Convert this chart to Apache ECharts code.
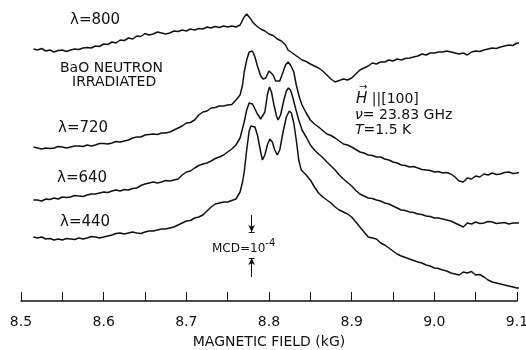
<!DOCTYPE html>
<html>
<head>
<meta charset="utf-8">
<script src="https://cdn.jsdelivr.net/npm/echarts@6/dist/echarts.min.js"></script>
<style>
  html, body { margin: 0; padding: 0; background: #fff; }
  #chart { width: 526px; height: 350px; }
</style>
</head>
<body>
<div id="chart"></div>
<script>
// MCD spectra of neutron-irradiated BaO, stacked with vertical offsets (arbitrary units)
const fieldTicks = [8.5, 8.6, 8.7, 8.8, 8.9, 9.0, 9.1];

const trace800 = [
  [8.515,252],[8.52,251],[8.525,252.5],[8.53,250],[8.535,251],[8.54,249],[8.545,250.5],[8.55,251],
  [8.555,249.5],[8.56,251],[8.565,252],[8.57,251.5],[8.575,253],[8.58,253.5],[8.585,253],[8.59,255],
  [8.595,254.5],[8.60,257],[8.605,256.5],[8.61,259],[8.615,258],[8.62,261],[8.625,260.5],[8.63,263],
  [8.635,262],[8.64,265],[8.645,264.5],[8.65,267.5],[8.655,266],[8.66,267],[8.665,269],[8.67,268],
  [8.675,267],[8.68,268],[8.685,270],[8.69,269.5],[8.695,271],[8.70,270],[8.705,272],[8.71,271],
  [8.715,272.5],[8.72,272],[8.725,274],[8.73,273],[8.735,274.5],[8.74,273.5],[8.745,275],[8.75,274],
  [8.755,275],[8.76,274],[8.765,276],[8.77,284],[8.773,287],[8.775,286],[8.778,282],[8.78,279],
  [8.785,275],[8.79,272],[8.795,270],[8.80,267],[8.805,265.5],[8.81,262],[8.815,260],[8.82,256],
  [8.823,251],[8.825,253],[8.83,247],[8.835,244],[8.84,241],[8.845,239.5],[8.85,237],[8.855,235],
  [8.86,233],[8.865,230],[8.87,226],[8.875,222],[8.88,219],[8.885,220.5],[8.89,222],[8.895,221],
  [8.90,223],[8.905,227],[8.91,231],[8.915,233],[8.92,235],[8.925,238],[8.93,237],[8.935,239],
  [8.94,239],[8.945,241],[8.95,240],[8.955,242],[8.96,241],[8.965,242.5],[8.97,243],[8.975,244],
  [8.98,245],[8.985,247],[8.99,246],[8.995,248],[9.00,248],[9.005,249],[9.01,249],[9.015,250],
  [9.02,249],[9.025,248],[9.03,247],[9.035,248],[9.04,246],[9.045,249],[9.05,250],[9.055,249.5],
  [9.06,251],[9.065,252],[9.07,253],[9.075,252.5],[9.08,254],[9.085,255],[9.09,256],[9.095,255.5],
  [9.10,258],[9.105,258]
];

const trace720 = [
  [8.515,154],[8.52,153],[8.525,152],[8.53,153],[8.535,152.5],[8.54,153],[8.545,154.5],[8.55,154],
  [8.555,153],[8.56,154],[8.565,155],[8.57,155],[8.575,154.5],[8.58,156],[8.585,155],[8.59,156],
  [8.595,157.5],[8.60,157.5],[8.605,157],[8.61,158],[8.615,159.5],[8.62,159],[8.625,160],[8.63,161],
  [8.635,163],[8.64,164],[8.645,164],[8.65,166],[8.655,166.5],[8.66,167],[8.665,166.5],[8.67,168],
  [8.675,168],[8.68,169],[8.685,171],[8.69,173],[8.695,175],[8.70,178],[8.705,178.5],[8.71,181],
  [8.715,186],[8.72,189],[8.725,190],[8.73,193],[8.735,193.5],[8.74,195],[8.745,195],[8.75,196],
  [8.755,196.5],[8.76,201],[8.765,206],[8.768,216],[8.77,229],[8.773,241],[8.776,249],[8.778,251],
  [8.78,250],[8.783,244],[8.786,235],[8.79,225],[8.793,222],[8.796,223],[8.80,230],[8.802,230],
  [8.805,226],[8.808,220],[8.81,218],[8.813,220],[8.817,229],[8.82,236],[8.823,239],[8.826,236],
  [8.83,229],[8.833,216],[8.837,203],[8.84,196],[8.845,188],[8.85,181],[8.855,177],[8.86,174],
  [8.865,170.5],[8.87,167],[8.875,165.5],[8.88,163],[8.885,160],[8.89,157],[8.895,156],[8.90,154],
  [8.905,151.5],[8.91,149],[8.915,148],[8.92,146],[8.925,145.5],[8.93,144],[8.935,144],[8.94,142],
  [8.945,141],[8.95,139],[8.955,138],[8.96,136],[8.965,135.5],[8.97,134],[8.975,134.5],[8.98,133],
  [8.985,131.5],[8.99,131],[8.995,130.5],[9.00,129],[9.005,129.5],[9.01,128],[9.015,128.5],[9.02,127],
  [9.025,124],[9.03,120],[9.035,119],[9.04,123],[9.045,122],[9.05,125],[9.055,124],[9.06,127],
  [9.065,126],[9.07,128],[9.075,126.5],[9.08,127],[9.085,128.5],[9.09,129],[9.095,127.5],[9.10,128],
  [9.105,129]
];

const trace640 = [
  [8.515,101],[8.52,101],[8.525,100],[8.53,102],[8.535,101.5],[8.54,103],[8.545,102],[8.55,104],
  [8.555,103.5],[8.56,104],[8.565,105.5],[8.57,105],[8.575,104.5],[8.58,106],[8.585,107],[8.59,107],
  [8.595,108],[8.60,109],[8.605,108.5],[8.61,110],[8.615,111],[8.62,110],[8.625,111.5],[8.63,111],
  [8.635,112.5],[8.64,113],[8.645,115.5],[8.65,117],[8.655,118],[8.66,119],[8.665,118],[8.67,119],
  [8.675,120.5],[8.68,120],[8.685,121],[8.69,122],[8.695,126],[8.70,129],[8.705,130],[8.71,133],
  [8.715,135.5],[8.72,137],[8.725,138],[8.73,140],[8.735,142.5],[8.74,144],[8.745,146],[8.75,149],
  [8.755,152],[8.76,156],[8.765,163],[8.77,179],[8.773,191],[8.776,198],[8.778,199],[8.78,197],
  [8.783,192],[8.786,187],[8.79,182],[8.792,181],[8.795,189],[8.798,206],[8.8005,214],[8.803,209],
  [8.806,196],[8.809,185],[8.811,181],[8.814,186],[8.818,201],[8.821,210],[8.8235,213],[8.826,211],
  [8.829,203],[8.832,193],[8.836,181],[8.84,171],[8.845,164],[8.85,156],[8.855,151],[8.86,147],
  [8.865,143.5],[8.87,139],[8.875,135],[8.88,131],[8.885,126],[8.89,122],[8.895,118.5],[8.90,115],
  [8.905,110.5],[8.91,107],[8.915,105],[8.92,103],[8.925,102.5],[8.93,101],[8.935,100],[8.94,98],
  [8.945,97],[8.95,95],[8.955,93],[8.96,91],[8.965,90.5],[8.97,89],[8.975,88.5],[8.98,87],
  [8.985,86.5],[8.99,85],[8.995,84.5],[9.00,83],[9.005,83],[9.01,82],[9.015,81],[9.02,80],
  [9.025,78],[9.03,76],[9.035,74],[9.04,78],[9.045,77],[9.05,79],[9.055,77.5],[9.06,78],
  [9.065,79.5],[9.07,79],[9.075,77.5],[9.08,78],[9.085,78.5],[9.09,77],[9.095,78],[9.10,78],
  [9.105,78]
];

const trace440 = [
  [8.515,64],[8.52,63],[8.525,64],[8.53,62],[8.535,62.5],[8.54,61],[8.545,62],[8.55,61],
  [8.555,62.5],[8.56,62],[8.565,61.5],[8.57,63],[8.575,62],[8.58,63],[8.585,64.5],[8.59,64],
  [8.595,63],[8.60,64],[8.605,65],[8.61,66],[8.615,67.5],[8.62,68],[8.625,67],[8.63,68],
  [8.635,69],[8.64,68],[8.645,67.5],[8.65,69],[8.655,70],[8.66,70],[8.665,71],[8.67,72],
  [8.675,72],[8.68,73],[8.685,74],[8.69,76],[8.695,78],[8.70,80],[8.705,80.5],[8.71,83],
  [8.715,84],[8.72,86],[8.725,90],[8.73,94],[8.735,97],[8.74,98],[8.745,99],[8.75,99],
  [8.755,100.5],[8.76,102],[8.765,109],[8.768,119],[8.77,129],[8.773,151],[8.776,170],[8.778,175],
  [8.78,176],[8.783,174],[8.786,166],[8.79,149],[8.792,141],[8.795,146],[8.798,156],[8.801,162],
  [8.804,159],[8.807,151],[8.81,146],[8.813,151],[8.817,169],[8.821,184],[8.8245,190],[8.827,188],
  [8.83,178],[8.833,161],[8.836,141],[8.839,131],[8.845,126],[8.85,121],[8.855,114],[8.86,108],
  [8.865,104],[8.87,101],[8.875,98],[8.88,94],[8.885,91],[8.89,89],[8.895,87],[8.90,84],
  [8.905,79],[8.91,74],[8.915,69],[8.92,64],[8.925,63],[8.93,62],[8.935,58],[8.94,56],
  [8.945,53],[8.95,50],[8.955,47],[8.96,45],[8.965,43.5],[8.97,42],[8.975,40.5],[8.98,39],
  [8.985,38],[8.99,36],[8.995,35],[9.00,33],[9.005,32.5],[9.01,31],[9.015,30],[9.02,28],
  [9.025,27],[9.03,26],[9.035,29],[9.04,28],[9.045,29.5],[9.05,26],[9.055,26.5],[9.06,24],
  [9.065,21],[9.07,19],[9.075,18],[9.08,17],[9.085,16],[9.09,15],[9.095,14],[9.10,13],
  [9.105,13]
];

// Scale bar: MCD = 1e-4 spans the gap between the two bars
const scaleField = 8.779;
const scaleBarLow = 43;
const scaleBarHigh = 69;
const scaleArrowTop = 86;
const scaleArrowBottom = 24;

const ink = '#111';
const font = 'DejaVu Sans';

function trace(name, data) {
  return {
    name: name,
    type: 'line',
    data: data,
    showSymbol: false,
    symbol: 'none',
    smooth: false,
    lineStyle: { color: ink, width: 1.5 },
    animation: false
  };
}

const chart = echarts.init(document.getElementById('chart'));
chart.setOption({
  backgroundColor: '#fff',
  animation: false,
  grid: { left: 21, right: 9, top: 0, bottom: 49, containLabel: false, outerBoundsMode: 'none' },
  xAxis: {
    type: 'value',
    min: 8.5,
    max: 9.1,
    interval: 0.05,
    name: 'MAGNETIC FIELD (kG)',
    nameLocation: 'middle',
    nameGap: 34,
    nameTextStyle: { color: ink, fontFamily: font, fontSize: 14 },
    axisLine: { lineStyle: { color: ink, width: 1.5 } },
    axisTick: { inside: true, length: 9, lineStyle: { color: ink, width: 1 } },
    axisLabel: {
      color: ink,
      fontFamily: font,
      fontSize: 14,
      margin: 14,
      formatter: function (v) {
        const hit = fieldTicks.find(t => Math.abs(t - v) < 1e-6);
        return hit === undefined ? '' : hit.toFixed(1);
      }
    },
    splitLine: { show: false }
  },
  yAxis: {
    type: 'value',
    min: 0,
    max: 301,
    show: false
  },
  series: [
    trace('λ=800', trace800),
    trace('λ=720', trace720),
    trace('λ=640', trace640),
    trace('λ=440', trace440),
    {
      name: 'scale',
      type: 'line',
      data: [],
      markLine: {
        silent: true,
        animation: false,
        symbol: ['none', 'arrow'],
        symbolSize: [5, 7],
        label: { show: false },
        lineStyle: { color: ink, width: 1, type: 'solid' },
        data: [
          [{ coord: [scaleField, scaleArrowTop] }, { coord: [scaleField, scaleBarHigh] }],
          [{ coord: [scaleField, scaleArrowBottom] }, { coord: [scaleField, scaleBarLow] }],
          [{ coord: [scaleField - 0.0035, scaleBarHigh], symbol: 'none' }, { coord: [scaleField + 0.0035, scaleBarHigh], symbol: 'none' }],
          [{ coord: [scaleField - 0.0035, scaleBarLow], symbol: 'none' }, { coord: [scaleField + 0.0035, scaleBarLow], symbol: 'none' }]
        ]
      }
    }
  ],
  graphic: [
    { type: 'text', left: 70, top: 13, style: { text: 'λ=800', font: '15px "DejaVu Sans"', fill: ink } },
    { type: 'text', left: 60, top: 61, style: { text: 'BaO NEUTRON', font: '14px "DejaVu Sans"', fill: ink } },
    { type: 'text', left: 72, top: 75, style: { text: 'IRRADIATED', font: '14px "DejaVu Sans"', fill: ink } },
    { type: 'text', left: 58, top: 121, style: { text: 'λ=720', font: '15px "DejaVu Sans"', fill: ink } },
    { type: 'text', left: 57, top: 171, style: { text: 'λ=640', font: '15px "DejaVu Sans"', fill: ink } },
    { type: 'text', left: 60, top: 215, style: { text: 'λ=440', font: '15px "DejaVu Sans"', fill: ink } },
    { type: 'text', left: 359, top: 82, style: { text: '→', font: '10px "DejaVu Sans"', fill: ink } },
    {
      type: 'text', left: 356, top: 92,
      style: {
        text: '{i|H}{n| ||[100]}',
        fill: ink,
        rich: {
          i: { font: 'italic 15px "DejaVu Sans"', fill: ink },
          n: { font: '14px "DejaVu Sans"', fill: ink }
        }
      }
    },
    {
      type: 'text', left: 355, top: 108,
      style: {
        text: '{i|ν}{n|= 23.83 GHz}',
        fill: ink,
        rich: {
          i: { font: 'italic 14px "DejaVu Sans"', fill: ink },
          n: { font: '14px "DejaVu Sans"', fill: ink }
        }
      }
    },
    {
      type: 'text', left: 355, top: 123,
      style: {
        text: '{i|T}{n|=1.5 K}',
        fill: ink,
        rich: {
          i: { font: 'italic 14px "DejaVu Sans"', fill: ink },
          n: { font: '14px "DejaVu Sans"', fill: ink }
        }
      }
    },
    {
      type: 'text', left: 212, top: 238,
      style: {
        text: '{n|MCD=10}{s|-4}',
        fill: ink,
        rich: {
          n: { font: '12px "DejaVu Sans"', fill: ink, verticalAlign: 'bottom' },
          s: { font: '10px "DejaVu Sans"', fill: ink, verticalAlign: 'top', padding: [0, 0, 7, 0] }
        }
      }
    }
  ]
});
</script>
</body>
</html>
